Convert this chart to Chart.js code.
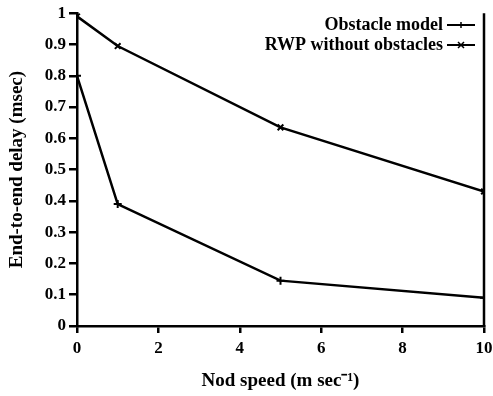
<!DOCTYPE html>
<html>
<head>
<meta charset="utf-8">
<script src="https://cdn.jsdelivr.net/npm/chart.js@4"></script>
<style>
  html, body { margin: 0; padding: 0; background: #fff; }
  #wrap { width: 493px; height: 396px; }
</style>
</head>
<body>
<div id="wrap"><canvas id="grafico"></canvas></div>
<script>
// dados
const velocidades = [0, 1, 5, 10];
const atrasoObstaculo = [0.80, 0.39, 0.145, 0.09];
const atrasoRWP = [0.99, 0.895, 0.635, 0.43];
const nomesSeries = ['Obstacle model', 'RWP without obstacles'];
const tituloX = 'Nod speed (m sec\u207B\u00B9)';
const tituloY = 'End-to-end delay (msec)';

const fonte = '"Liberation Serif", "Times New Roman", serif';

// borda direita + legenda à moda do original (texto à esquerda da linha)
const extras = {
  id: 'extras',
  afterDraw(chart) {
    const c = chart.ctx;
    const a = chart.chartArea;
    c.save();
    c.strokeStyle = '#000';
    c.lineWidth = 2.5;
    c.beginPath();
    c.moveTo(a.right, a.top);
    c.lineTo(a.right, a.bottom + 1);
    c.stroke();

    c.font = 'bold 18px ' + fonte;
    c.fillStyle = '#000';
    c.textAlign = 'right';
    c.textBaseline = 'middle';
    const linhas = [25, 45];
    chart.data.datasets.forEach((ds, i) => {
      const y = linhas[i];
      c.fillText(ds.label, 443, y);
      c.lineWidth = 2;
      c.beginPath();
      c.moveTo(447, y);
      c.lineTo(475, y);
      c.stroke();
      c.lineWidth = 1.5;
      c.beginPath();
      if (i === 0) {
        c.moveTo(461, y - 3); c.lineTo(461, y + 3);
      } else {
        c.moveTo(458, y - 3); c.lineTo(464, y + 3);
        c.moveTo(464, y - 3); c.lineTo(458, y + 3);
      }
      c.stroke();
    });
    c.restore();
  }
};

const ctx = document.getElementById('grafico').getContext('2d');
new Chart(ctx, {
  type: 'line',
  data: {
    labels: velocidades,
    datasets: [{
      label: nomesSeries[0],
      data: velocidades.map((v, i) => ({ x: v, y: atrasoObstaculo[i] })),
      borderColor: '#000',
      backgroundColor: '#000',
      borderWidth: 2.5,
      pointStyle: 'cross',
      pointRadius: 4,
      pointBorderWidth: 2,
      tension: 0
    }, {
      label: nomesSeries[1],
      data: velocidades.map((v, i) => ({ x: v, y: atrasoRWP[i] })),
      borderColor: '#000',
      backgroundColor: '#000',
      borderWidth: 2.5,
      pointStyle: 'crossRot',
      pointRadius: 4,
      pointBorderWidth: 2,
      tension: 0
    }]
  },
  options: {
    responsive: true,
    maintainAspectRatio: false,
    animation: false,
    layout: { padding: { top: 13, right: 9, left: 0, bottom: 0 } },
    plugins: {
      legend: { display: false },
      tooltip: { enabled: false }
    },
    scales: {
      x: {
        type: 'linear',
        min: 0, max: 10,
        ticks: { stepSize: 2, color: '#000', font: { family: fonte, size: 17, weight: 'bold' }, padding: 5 },
        grid: { drawOnChartArea: false, drawTicks: true, tickLength: 7, color: '#000', lineWidth: 2.5 },
        border: { display: true, color: '#000', width: 2.5 },
        title: { display: true, text: tituloX, color: '#000', font: { family: fonte, size: 19, weight: 'bold' }, padding: { top: 10 } },
        afterFit(s) { s.height = 70; s.paddingRight = 0; s.paddingLeft = 0; }
      },
      y: {
        min: 0, max: 1,
        ticks: {
          stepSize: 0.1, color: '#000', font: { family: fonte, size: 17, weight: 'bold' }, padding: 3,
          callback: (v) => String(Number(v.toFixed(1)))
        },
        grid: { drawOnChartArea: false, drawTicks: true, tickLength: 8, color: '#000', lineWidth: 2.5 },
        border: { display: true, color: '#000', width: 2.5 },
        title: { display: true, text: tituloY, color: '#000', font: { family: fonte, size: 19, weight: 'bold' }, padding: { top: 6, bottom: 0 } },
        afterFit(s) { s.width = 77; }
      }
    }
  },
  plugins: [extras]
});
</script>
</body>
</html>
